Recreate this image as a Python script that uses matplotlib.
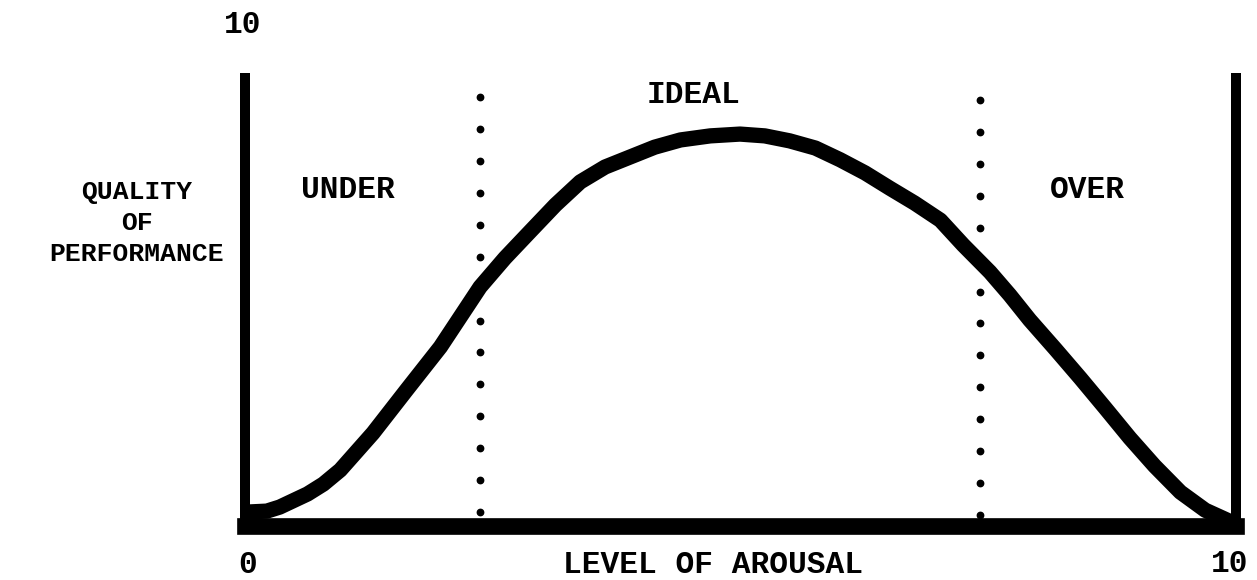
import matplotlib
matplotlib.use("Agg")
import matplotlib.pyplot as plt
import numpy as np

# Data, x: level of arousal 0..10, y: quality 0..10
arousal = [0.03, 0.22, 0.35, 0.63, 0.79, 0.96, 1.29, 1.63, 1.97, 2.37, 2.62,
           2.87, 3.13, 3.38, 3.63, 3.88, 4.13, 4.39, 4.69, 4.99, 5.24, 5.49,
           5.75, 6.00, 6.25, 6.50, 6.75, 7.01, 7.24, 7.51, 7.71, 7.91, 8.17,
           8.42, 8.67, 8.92, 9.17, 9.43, 9.68, 9.90, 9.98]
performance = [0.31, 0.33, 0.42, 0.71, 0.93, 1.24, 2.06, 3.02, 3.97, 5.30, 5.94,
               6.52, 7.12, 7.63, 7.96, 8.18, 8.40, 8.56, 8.65, 8.69, 8.65, 8.54,
               8.38, 8.12, 7.83, 7.49, 7.16, 6.78, 6.23, 5.63, 5.12, 4.57, 3.92,
               3.28, 2.62, 1.95, 1.33, 0.75, 0.35, 0.13, 0.02]
zone_bounds = [2.37, 7.41]
zone_labels = ["UNDER", "IDEAL", "OVER"]
x_ticks = ["0", "10"]
y_top_label = "10"
x_title = "LEVEL OF AROUSAL"
y_title = "QUALITY\nOF\nPERFORMANCE"

W, H = 1257, 580
fig = plt.figure(figsize=(W / 100, H / 100), dpi=100)
ax = fig.add_axes([245 / W, 54 / H, 992 / W, 451 / H])
ax.set_xlim(0, 10)
ax.set_ylim(0, 10)
ax.axis("off")

font = dict(family="Liberation Mono", weight="bold", color="black")

# frame lines
ax.plot([0, 0], [0, 10.05], color="black", lw=7.2, solid_capstyle="butt", clip_on=False)
ax.plot([9.99, 9.99], [0, 10.05], color="black", lw=7.2, solid_capstyle="butt", clip_on=False)
ax.plot([0, 9.99], [0, 0], color="black", lw=12, solid_capstyle="projecting", clip_on=False)

# curve
ax.plot(arousal, performance, color="black", lw=11, solid_capstyle="round",
        solid_joinstyle="round", clip_on=False)

# dotted zone boundaries
tops = [9.51, 9.45]
bots = [0.31, 0.24]
for xb, t, b in zip(zone_bounds, tops, bots):
    ys = np.linspace(b, t, 14)
    ax.plot([xb] * len(ys), ys, linestyle="none", marker="o", markersize=4.6,
            color="black", clip_on=False)

fs = 22.5
ax.text(1.04, 7.45, zone_labels[0], ha="center", va="center", fontsize=fs, **font)
ax.text(4.52, 9.56, zone_labels[1], ha="center", va="center", fontsize=fs, **font)
ax.text(8.49, 7.45, zone_labels[2], ha="center", va="center", fontsize=fs, **font)

ax.text(-0.02, 11.1, y_top_label, ha="center", va="center", fontsize=fs, **font)
ax.text(0.03, -0.86, x_ticks[0], ha="center", va="center", fontsize=fs, **font)
ax.text(9.93, -0.84, x_ticks[1], ha="center", va="center", fontsize=fs, **font)
ax.text(4.72, -0.86, x_title, ha="center", va="center", fontsize=fs, **font)
ax.text(-1.09, 6.72, y_title, ha="center", va="center", fontsize=19,
        multialignment="center", linespacing=1.38, **font)

fig.savefig("out.png", dpi=100, facecolor="white")
